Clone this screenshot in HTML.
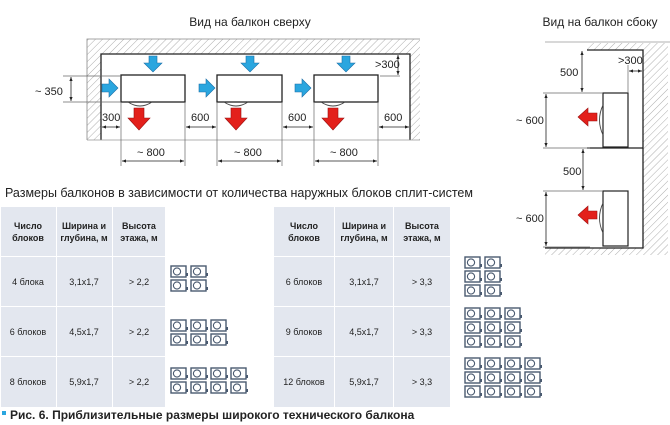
<!DOCTYPE html>
<html><head><meta charset="utf-8"><style>
html,body{margin:0;padding:0;background:#fff}
svg{display:block}
text{font-family:"Liberation Sans","DejaVu Sans",sans-serif;fill:#222}
</style></head><body>
<svg width="670" height="425" viewBox="0 0 670 425" xmlns="http://www.w3.org/2000/svg">
<defs>
<pattern id="h" width="5" height="5" patternUnits="userSpaceOnUse" patternTransform="rotate(45)">
<line x1="0" y1="0" x2="0" y2="5" stroke="#999" stroke-width="0.8"/></pattern>
<g id="bd"><path d="M-4,-8 h8 v7 h5 l-9,9 l-9,-9 h5z" fill="#2aa6df" stroke="#1b6fa8" stroke-width="0.6"/></g>
<g id="br"><path d="M-8,-4 v8 h7 v5 l9,-9 l-9,-9 v5z" fill="#2aa6df" stroke="#1b6fa8" stroke-width="0.6"/></g>
<g id="rd"><path d="M-5,-11 h10 v10 h6 l-11,12 l-11,-12 h6z" fill="#e3201b" stroke="#9b1010" stroke-width="0.6"/></g>
<g id="rl"><path d="M10,-4 v8 h-9 v5 l-10,-9 l10,-9 v5z" fill="#e3201b" stroke="#9b1010" stroke-width="0.6"/></g>
<g id="ic"><rect x="0" y="0" width="15" height="11" fill="#fff" stroke="#4a5a70" stroke-width="1.4"/><circle cx="6" cy="5.5" r="3.6" fill="none" stroke="#4a5a70" stroke-width="1.1"/><rect x="15" y="7" width="2" height="3" fill="#4a5a70"/></g>
<marker id="a" viewBox="0 0 10 10" refX="10" refY="5" markerWidth="5" markerHeight="5" orient="auto-start-reverse"><path d="M0,1 L10,5 L0,9z" fill="#222"/></marker>
</defs>

<text x="250" y="26" font-size="12" text-anchor="middle">Вид на балкон сверху</text>
<text x="600" y="26" font-size="12" text-anchor="middle">Вид на балкон сбоку</text>

<path d="M87,140 V39 H420 V140 H410 V54 H101 V140 Z" fill="url(#h)" stroke="none"/>
<path d="M87,140 V39 H420" fill="none" stroke="#888" stroke-width="0.8"/>
<path d="M101,140 V54 H410 V140" fill="none" stroke="#222" stroke-width="1.3"/>
<line x1="87" y1="140" x2="420" y2="140" stroke="#999" stroke-width="0.8"/>

<g fill="#fff" stroke="#222" stroke-width="1.3">
<rect x="121" y="75" width="64" height="27"/>
<rect x="217" y="75" width="65" height="27"/>
<rect x="314" y="75" width="64" height="27"/>
</g>
<g fill="none" stroke="#444" stroke-width="0.9">
<path d="M128,102 Q140,110 152,102"/><path d="M224,102 Q236,110 248,102"/><path d="M321,102 Q333,110 345,102"/>
</g>
<use href="#bd" x="153" y="64"/><use href="#bd" x="250" y="64"/><use href="#bd" x="346" y="64"/>
<use href="#br" x="110" y="88"/><use href="#br" x="207" y="88"/><use href="#br" x="303" y="88"/>
<use href="#rd" x="139" y="119"/><use href="#rd" x="236" y="119"/><use href="#rd" x="333" y="119"/>

<g stroke="#666" stroke-width="0.7">
<line x1="63" y1="76" x2="121" y2="76"/><line x1="63" y1="102" x2="121" y2="102"/>
<line x1="121" y1="102" x2="121" y2="166"/><line x1="185" y1="102" x2="185" y2="166"/>
<line x1="217" y1="102" x2="217" y2="166"/><line x1="282" y1="102" x2="282" y2="166"/>
<line x1="314" y1="102" x2="314" y2="166"/><line x1="378" y1="102" x2="378" y2="166"/>
<line x1="380" y1="76" x2="400" y2="76"/>
</g>
<g stroke="#222" stroke-width="0.8" marker-start="url(#a)" marker-end="url(#a)">
<line x1="71" y1="77" x2="71" y2="101"/>
<line x1="102" y1="127" x2="120" y2="127"/>
<line x1="186" y1="127" x2="216" y2="127"/>
<line x1="283" y1="127" x2="313" y2="127"/>
<line x1="379" y1="127" x2="409" y2="127"/>
<line x1="122" y1="161" x2="184" y2="161"/>
<line x1="218" y1="161" x2="281" y2="161"/>
<line x1="315" y1="161" x2="377" y2="161"/>
<line x1="398" y1="55" x2="398" y2="75"/>
</g>
<g font-size="11">
<text x="35" y="95">~ 350</text>
<text x="102" y="121">300</text>
<text x="191" y="121">600</text>
<text x="288" y="121">600</text>
<text x="384" y="121">600</text>
<text x="137" y="156">~ 800</text>
<text x="234" y="156">~ 800</text>
<text x="330" y="156">~ 800</text>
<text x="375" y="68">&gt;300</text>
</g>

<line x1="545" y1="42" x2="670" y2="42" stroke="#999" stroke-width="0.8"/>
<path d="M587,43 H668 V255 H545 V248 H643 V50 H587 Z" fill="url(#h)"/>
<path d="M587,50 H643 V248 H545" fill="none" stroke="#222" stroke-width="1.3"/>
<line x1="587" y1="148" x2="643" y2="148" stroke="#222" stroke-width="1.3"/>
<g fill="#fff" stroke="#222" stroke-width="1.2">
<rect x="603" y="93" width="25" height="54"/>
<rect x="603" y="191" width="25" height="55"/>
</g>
<g fill="none" stroke="#444" stroke-width="0.9">
<path d="M603,105 Q596,120 603,135"/><path d="M603,203 Q596,218 603,233"/>
</g>
<use href="#rl" x="587" y="117"/><use href="#rl" x="587" y="215"/>
<g stroke="#666" stroke-width="0.7">
<line x1="543" y1="93" x2="603" y2="93"/><line x1="543" y1="148" x2="590" y2="148"/>
<line x1="543" y1="191" x2="603" y2="191"/><line x1="543" y1="247" x2="590" y2="247"/>
<line x1="628" y1="65" x2="628" y2="93"/>
</g>
<g stroke="#222" stroke-width="0.8" marker-start="url(#a)" marker-end="url(#a)">
<line x1="582" y1="51" x2="582" y2="92"/>
<line x1="546" y1="94" x2="546" y2="147"/>
<line x1="583" y1="149" x2="583" y2="190"/>
<line x1="546" y1="192" x2="546" y2="246"/>
<line x1="629" y1="71" x2="642" y2="71"/>
</g>
<g font-size="11">
<text x="560" y="76">500</text>
<text x="516" y="124">~ 600</text>
<text x="563" y="175">500</text>
<text x="516" y="222">~ 600</text>
<text x="618" y="64">&gt;300</text>
</g>

<text x="5" y="197" font-size="12.5">Размеры балконов в зависимости от количества наружных блоков сплит-систем</text>

<g fill="#e3e7ef">
<rect x="1" y="207" width="55" height="49"/><rect x="57" y="207" width="55" height="49"/><rect x="113" y="207" width="52" height="49"/>
<rect x="1" y="257" width="55" height="49"/><rect x="57" y="257" width="55" height="49"/><rect x="113" y="257" width="52" height="49"/>
<rect x="1" y="307" width="55" height="49"/><rect x="57" y="307" width="55" height="49"/><rect x="113" y="307" width="52" height="49"/>
<rect x="1" y="357" width="55" height="50"/><rect x="57" y="357" width="55" height="50"/><rect x="113" y="357" width="52" height="50"/>
<rect x="274" y="207" width="60" height="49"/><rect x="335" y="207" width="58" height="49"/><rect x="394" y="207" width="56" height="49"/>
<rect x="274" y="257" width="60" height="49"/><rect x="335" y="257" width="58" height="49"/><rect x="394" y="257" width="56" height="49"/>
<rect x="274" y="307" width="60" height="49"/><rect x="335" y="307" width="58" height="49"/><rect x="394" y="307" width="56" height="49"/>
<rect x="274" y="357" width="60" height="50"/><rect x="335" y="357" width="58" height="50"/><rect x="394" y="357" width="56" height="50"/>
</g>
<g font-size="9" text-anchor="middle" font-weight="bold">
<text x="28" y="229">Число</text><text x="28" y="241">блоков</text>
<text x="84" y="229">Ширина и</text><text x="84" y="241">глубина, м</text>
<text x="139" y="229">Высота</text><text x="139" y="241">этажа, м</text>
<text x="304" y="229">Число</text><text x="304" y="241">блоков</text>
<text x="364" y="229">Ширина и</text><text x="364" y="241">глубина, м</text>
<text x="422" y="229">Высота</text><text x="422" y="241">этажа, м</text>
</g>
<g font-size="9" text-anchor="middle">
<text x="28" y="285">4 блока</text><text x="84" y="285">3,1x1,7</text><text x="139" y="285">&gt; 2,2</text>
<text x="28" y="335">6 блоков</text><text x="84" y="335">4,5x1,7</text><text x="139" y="335">&gt; 2,2</text>
<text x="28" y="385">8 блоков</text><text x="84" y="385">5,9x1,7</text><text x="139" y="385">&gt; 2,2</text>
<text x="304" y="285">6 блоков</text><text x="364" y="285">3,1x1,7</text><text x="422" y="285">&gt; 3,3</text>
<text x="304" y="335">9 блоков</text><text x="364" y="335">4,5x1,7</text><text x="422" y="335">&gt; 3,3</text>
<text x="304" y="385">12 блоков</text><text x="364" y="385">5,9x1,7</text><text x="422" y="385">&gt; 3,3</text>
</g>

<use href="#ic" x="171" y="266"/><use href="#ic" x="191" y="266"/>
<use href="#ic" x="171" y="280"/><use href="#ic" x="191" y="280"/>
<use href="#ic" x="171" y="320"/><use href="#ic" x="191" y="320"/><use href="#ic" x="211" y="320"/>
<use href="#ic" x="171" y="334"/><use href="#ic" x="191" y="334"/><use href="#ic" x="211" y="334"/>
<use href="#ic" x="171" y="368"/><use href="#ic" x="191" y="368"/><use href="#ic" x="211" y="368"/><use href="#ic" x="231" y="368"/>
<use href="#ic" x="171" y="382"/><use href="#ic" x="191" y="382"/><use href="#ic" x="211" y="382"/><use href="#ic" x="231" y="382"/>
<use href="#ic" x="465" y="257"/><use href="#ic" x="485" y="257"/>
<use href="#ic" x="465" y="271"/><use href="#ic" x="485" y="271"/>
<use href="#ic" x="465" y="285"/><use href="#ic" x="485" y="285"/>
<use href="#ic" x="465" y="308"/><use href="#ic" x="485" y="308"/><use href="#ic" x="505" y="308"/>
<use href="#ic" x="465" y="322"/><use href="#ic" x="485" y="322"/><use href="#ic" x="505" y="322"/>
<use href="#ic" x="465" y="336"/><use href="#ic" x="485" y="336"/><use href="#ic" x="505" y="336"/>
<use href="#ic" x="465" y="358"/><use href="#ic" x="485" y="358"/><use href="#ic" x="505" y="358"/><use href="#ic" x="525" y="358"/>
<use href="#ic" x="465" y="372"/><use href="#ic" x="485" y="372"/><use href="#ic" x="505" y="372"/><use href="#ic" x="525" y="372"/>
<use href="#ic" x="465" y="386"/><use href="#ic" x="485" y="386"/><use href="#ic" x="505" y="386"/><use href="#ic" x="525" y="386"/>

<rect x="2" y="411" width="4" height="4" fill="#2aa6df"/>
<text x="10" y="419" font-size="12" font-weight="bold">Рис. 6. Приблизительные размеры широкого технического балкона</text>
</svg>
</body></html>
